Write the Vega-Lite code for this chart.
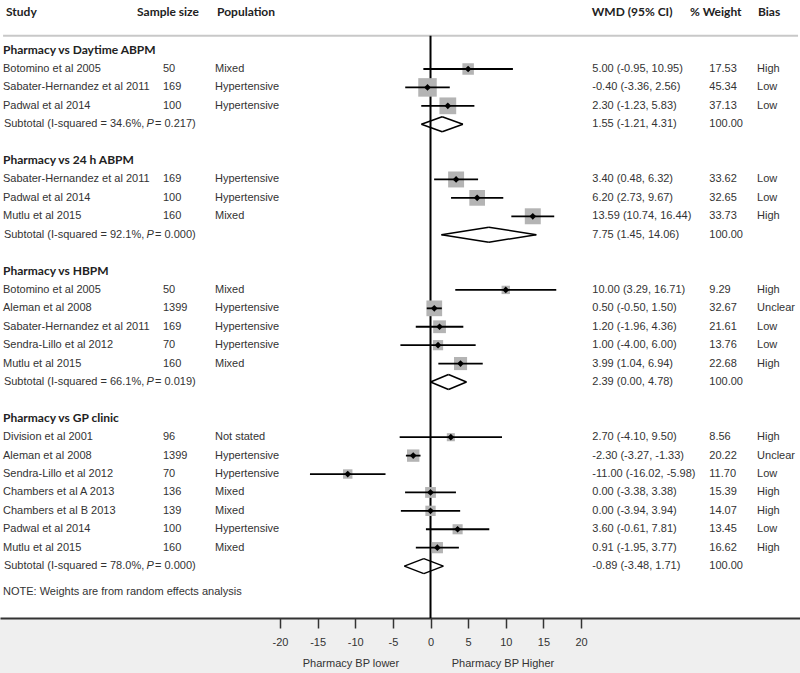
{
  "$schema": "https://vega.github.io/schema/vega-lite/v6.json",
  "width": 800,
  "height": 618,
  "autosize": {"type": "none"},
  "padding": {"left": 0, "top": 0, "right": 0, "bottom": 55},
  "background": "#efefef",
  "config": {
    "view": {"fill": "white", "stroke": null},
    "text": {"font": "Liberation Sans", "fontSize": 11, "color": "#333333", "align": "left", "baseline": "middle"}
  },
  "datasets": {
    "table": [
      {"row": 0, "kind": "title", "label": "Pharmacy vs Daytime ABPM"},
      {"row": 1, "kind": "study", "label": "Botomino et al 2005", "n": "50", "pop": "Mixed", "est": 5.00, "lo": -0.95, "hi": 10.95, "wmd": "5.00 (-0.95, 10.95)", "wt": 17.53, "bias": "High"},
      {"row": 2, "kind": "study", "label": "Sabater-Hernandez et al 2011", "n": "169", "pop": "Hypertensive", "est": -0.40, "lo": -3.36, "hi": 2.56, "wmd": "-0.40 (-3.36, 2.56)", "wt": 45.34, "bias": "Low"},
      {"row": 3, "kind": "study", "label": "Padwal et al 2014", "n": "100", "pop": "Hypertensive", "est": 2.30, "lo": -1.23, "hi": 5.83, "wmd": "2.30 (-1.23, 5.83)", "wt": 37.13, "bias": "Low"},
      {"row": 4, "kind": "sub", "label": "Subtotal  (I-squared = 34.6%,", "pv": "= 0.217)", "est": 1.55, "lo": -1.21, "hi": 4.31, "wmd": "1.55 (-1.21, 4.31)", "wt": 100},
      {"row": 6, "kind": "title", "label": "Pharmacy vs 24 h  ABPM"},
      {"row": 7, "kind": "study", "label": "Sabater-Hernandez et al 2011", "n": "169", "pop": "Hypertensive", "est": 3.40, "lo": 0.48, "hi": 6.32, "wmd": "3.40 (0.48, 6.32)", "wt": 33.62, "bias": "Low"},
      {"row": 8, "kind": "study", "label": "Padwal et al 2014", "n": "100", "pop": "Hypertensive", "est": 6.20, "lo": 2.73, "hi": 9.67, "wmd": "6.20 (2.73, 9.67)", "wt": 32.65, "bias": "Low"},
      {"row": 9, "kind": "study", "label": "Mutlu et al 2015", "n": "160", "pop": "Mixed", "est": 13.59, "lo": 10.74, "hi": 16.44, "wmd": "13.59 (10.74, 16.44)", "wt": 33.73, "bias": "High"},
      {"row": 10, "kind": "sub", "label": "Subtotal  (I-squared = 92.1%,", "pv": "= 0.000)", "est": 7.75, "lo": 1.45, "hi": 14.06, "wmd": "7.75 (1.45, 14.06)", "wt": 100},
      {"row": 12, "kind": "title", "label": "Pharmacy vs HBPM"},
      {"row": 13, "kind": "study", "label": "Botomino et al 2005", "n": "50", "pop": "Mixed", "est": 10.00, "lo": 3.29, "hi": 16.71, "wmd": "10.00 (3.29, 16.71)", "wt": 9.29, "bias": "High"},
      {"row": 14, "kind": "study", "label": "Aleman et al 2008", "n": "1399", "pop": "Hypertensive", "est": 0.50, "lo": -0.50, "hi": 1.50, "wmd": "0.50 (-0.50, 1.50)", "wt": 32.67, "bias": "Unclear"},
      {"row": 15, "kind": "study", "label": "Sabater-Hernandez et al 2011", "n": "169", "pop": "Hypertensive", "est": 1.20, "lo": -1.96, "hi": 4.36, "wmd": "1.20 (-1.96, 4.36)", "wt": 21.61, "bias": "Low"},
      {"row": 16, "kind": "study", "label": "Sendra-Lillo et al 2012", "n": "70", "pop": "Hypertensive", "est": 1.00, "lo": -4.00, "hi": 6.00, "wmd": "1.00 (-4.00, 6.00)", "wt": 13.76, "bias": "Low"},
      {"row": 17, "kind": "study", "label": "Mutlu et al 2015", "n": "160", "pop": "Mixed", "est": 3.99, "lo": 1.04, "hi": 6.94, "wmd": "3.99 (1.04, 6.94)", "wt": 22.68, "bias": "High"},
      {"row": 18, "kind": "sub", "label": "Subtotal  (I-squared = 66.1%,", "pv": "= 0.019)", "est": 2.39, "lo": 0.00, "hi": 4.78, "wmd": "2.39 (0.00, 4.78)", "wt": 100},
      {"row": 20, "kind": "title", "label": "Pharmacy vs GP clinic"},
      {"row": 21, "kind": "study", "label": "Division et al 2001", "n": "96", "pop": "Not stated", "est": 2.70, "lo": -4.10, "hi": 9.50, "wmd": "2.70 (-4.10, 9.50)", "wt": 8.56, "bias": "High"},
      {"row": 22, "kind": "study", "label": "Aleman et al 2008", "n": "1399", "pop": "Hypertensive", "est": -2.30, "lo": -3.27, "hi": -1.33, "wmd": "-2.30 (-3.27, -1.33)", "wt": 20.22, "bias": "Unclear"},
      {"row": 23, "kind": "study", "label": "Sendra-Lillo et al 2012", "n": "70", "pop": "Hypertensive", "est": -11.00, "lo": -16.02, "hi": -5.98, "wmd": "-11.00 (-16.02, -5.98)", "wt": 11.70, "bias": "Low"},
      {"row": 24, "kind": "study", "label": "Chambers et al A 2013", "n": "136", "pop": "Mixed", "est": 0.00, "lo": -3.38, "hi": 3.38, "wmd": "0.00 (-3.38, 3.38)", "wt": 15.39, "bias": "High"},
      {"row": 25, "kind": "study", "label": "Chambers et al B 2013", "n": "139", "pop": "Mixed", "est": 0.00, "lo": -3.94, "hi": 3.94, "wmd": "0.00 (-3.94, 3.94)", "wt": 14.07, "bias": "High"},
      {"row": 26, "kind": "study", "label": "Padwal et al 2014", "n": "100", "pop": "Hypertensive", "est": 3.60, "lo": -0.61, "hi": 7.81, "wmd": "3.60 (-0.61, 7.81)", "wt": 13.45, "bias": "Low"},
      {"row": 27, "kind": "study", "label": "Mutlu et al 2015", "n": "160", "pop": "Mixed", "est": 0.91, "lo": -1.95, "hi": 3.77, "wmd": "0.91 (-1.95, 3.77)", "wt": 16.62, "bias": "High"},
      {"row": 28, "kind": "sub", "label": "Subtotal  (I-squared = 78.0%,", "pv": "= 0.000)", "est": -0.89, "lo": -3.48, "hi": 1.71, "wmd": "-0.89 (-3.48, 1.71)", "wt": 100}
    ]
  },
  "data": {"name": "table"},
  "layer": [
    {
      "data": {"values": [{}]},
      "mark": {"type": "rule", "color": "#c8c8c8", "strokeWidth": 2},
      "encoding": {
        "x": {"datum": -56.8, "type": "quantitative", "scale": {"domain": [-57.21, 49.1], "nice": false, "zero": false},
              "axis": {"values": [-20, -15, -10, -5, 0, 5, 10, 15, 20], "labelExpr": "'' + datum.value", "title": null, "grid": false,
                       "domainColor": "#333333", "domainWidth": 2, "tickColor": "#333333", "tickWidth": 1.5, "tickSize": 10,
                       "labelFont": "Liberation Sans", "labelFontSize": 11, "labelColor": "#333333", "labelPadding": 8, "labelFlush": false}},
        "x2": {"datum": 48.84},
        "y": {"datum": -0.8, "type": "quantitative", "scale": {"domain": [-2.748, 30.82], "reverse": true, "nice": false, "zero": false}, "axis": null}
      }
    },
    {
      "data": {"values": [{}]},
      "mark": {"type": "rule", "color": "black", "strokeWidth": 2},
      "encoding": {
        "x": {"datum": 0},
        "y": {"datum": -0.8},
        "y2": {"datum": 30.82}
      }
    },
    {
      "transform": [{"filter": "datum.kind == 'study'"}],
      "mark": {"type": "square", "fill": "#b4b4b4", "opacity": 1, "strokeWidth": 0},
      "encoding": {
        "x": {"field": "est", "type": "quantitative"},
        "y": {"field": "row", "type": "quantitative"},
        "size": {"field": "wt", "type": "quantitative", "scale": {"domain": [0, 100], "range": [0, 756], "zero": true}, "legend": null}
      }
    },
    {
      "transform": [{"filter": "datum.kind == 'study'"}],
      "mark": {"type": "rule", "color": "black", "strokeWidth": 1.8},
      "encoding": {
        "x": {"field": "lo", "type": "quantitative"},
        "x2": {"field": "hi"},
        "y": {"field": "row", "type": "quantitative"}
      }
    },
    {
      "transform": [{"filter": "datum.kind == 'study'"}],
      "mark": {"type": "point", "shape": "diamond", "filled": true, "fill": "black", "size": 45, "opacity": 1},
      "encoding": {
        "x": {"field": "est", "type": "quantitative"},
        "y": {"field": "row", "type": "quantitative"}
      }
    },
    {
      "transform": [{"filter": "datum.kind == 'sub'"}],
      "mark": {"type": "rule", "color": "black", "strokeWidth": 1.5, "y2Offset": -7.5},
      "encoding": {
        "x": {"field": "lo", "type": "quantitative"},
        "x2": {"field": "est"},
        "y": {"field": "row", "type": "quantitative"},
        "y2": {"field": "row"}
      }
    },
    {
      "transform": [{"filter": "datum.kind == 'sub'"}],
      "mark": {"type": "rule", "color": "black", "strokeWidth": 1.5, "y2Offset": 7.5},
      "encoding": {
        "x": {"field": "lo", "type": "quantitative"},
        "x2": {"field": "est"},
        "y": {"field": "row", "type": "quantitative"},
        "y2": {"field": "row"}
      }
    },
    {
      "transform": [{"filter": "datum.kind == 'sub'"}],
      "mark": {"type": "rule", "color": "black", "strokeWidth": 1.5, "y2Offset": -7.5},
      "encoding": {
        "x": {"field": "hi", "type": "quantitative"},
        "x2": {"field": "est"},
        "y": {"field": "row", "type": "quantitative"},
        "y2": {"field": "row"}
      }
    },
    {
      "transform": [{"filter": "datum.kind == 'sub'"}],
      "mark": {"type": "rule", "color": "black", "strokeWidth": 1.5, "y2Offset": 7.5},
      "encoding": {
        "x": {"field": "hi", "type": "quantitative"},
        "x2": {"field": "est"},
        "y": {"field": "row", "type": "quantitative"},
        "y2": {"field": "row"}
      }
    },
    {
      "transform": [{"filter": "datum.kind == 'title'"}],
      "mark": {"type": "text", "font": "Lato", "fontWeight": "bold", "fontSize": 12, "color": "#222222", "dy": -1},
      "encoding": {
        "x": {"datum": -56.81},
        "y": {"field": "row", "type": "quantitative"},
        "text": {"field": "label"}
      }
    },
    {
      "transform": [{"filter": "datum.kind == 'study'"}],
      "mark": {"type": "text"},
      "encoding": {
        "x": {"datum": -56.81},
        "y": {"field": "row", "type": "quantitative"},
        "text": {"field": "label"}
      }
    },
    {
      "transform": [{"filter": "datum.kind == 'sub'"}],
      "mark": {"type": "text", "align": "right"},
      "encoding": {
        "x": {"datum": -38.04},
        "y": {"field": "row", "type": "quantitative"},
        "text": {"field": "label"}
      }
    },
    {
      "transform": [{"filter": "datum.kind == 'sub'"}],
      "mark": {"type": "text", "fontStyle": "italic", "text": "P"},
      "encoding": {
        "x": {"datum": -37.74},
        "y": {"field": "row", "type": "quantitative"}
      }
    },
    {
      "transform": [{"filter": "datum.kind == 'sub'"}],
      "mark": {"type": "text"},
      "encoding": {
        "x": {"datum": -36.61},
        "y": {"field": "row", "type": "quantitative"},
        "text": {"field": "pv"}
      }
    },
    {
      "transform": [{"filter": "datum.kind == 'study'"}],
      "mark": {"type": "text"},
      "encoding": {
        "x": {"datum": -35.55},
        "y": {"field": "row", "type": "quantitative"},
        "text": {"field": "n"}
      }
    },
    {
      "transform": [{"filter": "datum.kind == 'study'"}],
      "mark": {"type": "text"},
      "encoding": {
        "x": {"datum": -28.64},
        "y": {"field": "row", "type": "quantitative"},
        "text": {"field": "pop"}
      }
    },
    {
      "transform": [{"filter": "datum.kind != 'title'"}],
      "mark": {"type": "text"},
      "encoding": {
        "x": {"datum": 21.5},
        "y": {"field": "row", "type": "quantitative"},
        "text": {"field": "wmd"}
      }
    },
    {
      "transform": [{"filter": "datum.kind != 'title'"}],
      "mark": {"type": "text"},
      "encoding": {
        "x": {"datum": 37.05},
        "y": {"field": "row", "type": "quantitative"},
        "text": {"field": "wt", "type": "quantitative", "format": ".2f"}
      }
    },
    {
      "transform": [{"filter": "datum.kind == 'study'"}],
      "mark": {"type": "text"},
      "encoding": {
        "x": {"datum": 43.4},
        "y": {"field": "row", "type": "quantitative"},
        "text": {"field": "bias"}
      }
    },
    {
      "data": {"values": [{}]},
      "mark": {"type": "text", "font": "Lato", "fontWeight": "bold", "fontSize": 12, "color": "#222222", "text": "Study"},
      "encoding": {"x": {"datum": -56.41}, "y": {"datum": -2.1}}
    },
    {
      "data": {"values": [{}]},
      "mark": {"type": "text", "font": "Lato", "fontWeight": "bold", "fontSize": 12, "color": "#222222", "text": "Sample size"},
      "encoding": {"x": {"datum": -39.0}, "y": {"datum": -2.1}}
    },
    {
      "data": {"values": [{}]},
      "mark": {"type": "text", "font": "Lato", "fontWeight": "bold", "fontSize": 12, "color": "#222222", "text": "Population"},
      "encoding": {"x": {"datum": -28.37}, "y": {"datum": -2.1}}
    },
    {
      "data": {"values": [{}]},
      "mark": {"type": "text", "font": "Lato", "fontWeight": "bold", "fontSize": 12, "color": "#222222", "text": "WMD (95% CI)"},
      "encoding": {"x": {"datum": 21.42}, "y": {"datum": -2.1}}
    },
    {
      "data": {"values": [{}]},
      "mark": {"type": "text", "font": "Lato", "fontWeight": "bold", "fontSize": 12, "color": "#222222", "text": "% Weight"},
      "encoding": {"x": {"datum": 34.49}, "y": {"datum": -2.1}}
    },
    {
      "data": {"values": [{}]},
      "mark": {"type": "text", "font": "Lato", "fontWeight": "bold", "fontSize": 12, "color": "#222222", "text": "Bias"},
      "encoding": {"x": {"datum": 43.52}, "y": {"datum": -2.1}}
    },
    {
      "data": {"values": [{}]},
      "mark": {"type": "text", "text": "NOTE: Weights are from random effects analysis"},
      "encoding": {"x": {"datum": -56.81}, "y": {"datum": 29.41}}
    },
    {
      "data": {"values": [{}]},
      "mark": {"type": "text", "text": "Pharmacy BP lower"},
      "encoding": {"x": {"datum": -16.98}, "y": {"datum": 33.32}}
    },
    {
      "data": {"values": [{}]},
      "mark": {"type": "text", "text": "Pharmacy BP Higher"},
      "encoding": {"x": {"datum": 2.82}, "y": {"datum": 33.32}}
    }
  ]
}
